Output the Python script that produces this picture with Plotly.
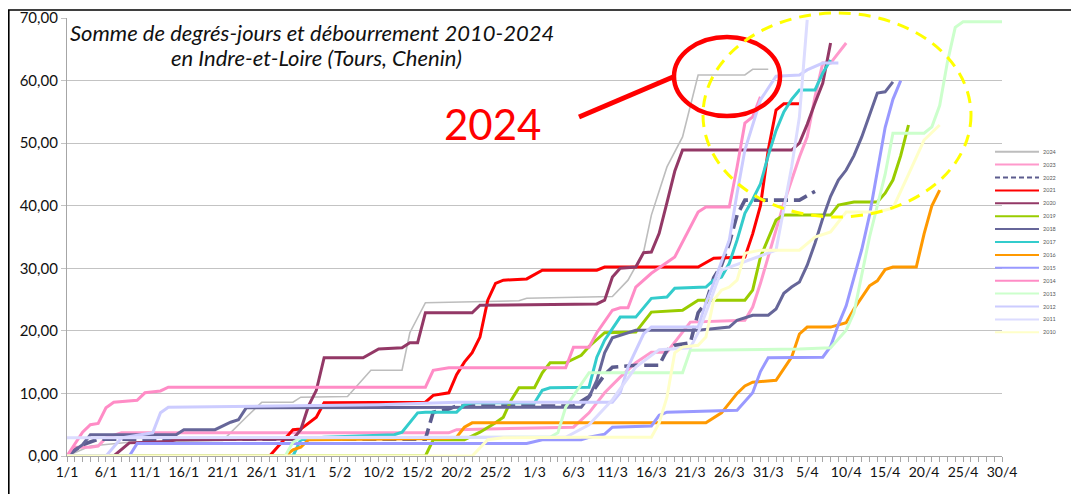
import plotly.graph_objects as go

# ---------------- data ----------------
TICK_LABELS = ["1/1", "6/1", "11/1", "16/1", "21/1", "26/1", "31/1", "5/2", "10/2", "15/2",
               "20/2", "25/2", "1/3", "6/3", "11/3", "16/3", "21/3", "26/3", "31/3", "5/4",
               "10/4", "15/4", "20/4", "25/4", "30/4"]

SERIES = ["2024", "2023", "2022", "2021", "2020", "2019", "2018", "2017",
          "2016", "2015", "2014", "2013", "2012", "2011", "2010"]

d2024 = ["1/1", "4/1", "9/1", "21/1", "24/1", "26/1", "30/1", "31/1", "6/2", "9/2", "13/2", "14/2", "16/2",
         "21/2", "28/2", "29/2", "11/3", "13/3", "15/3", "16/3", "18/3", "20/3", "22/3", "28/3", "29/3", "31/3"]
v2024 = [0, 1.6, 2.2, 2.5, 6.2, 8.6, 8.6, 9.4, 9.5, 13.7, 13.7, 19.7, 24.5,
         24.6, 24.8, 25.2, 25.5, 28.1, 32.6, 38.5, 46.2, 51.0, 60.9, 60.9, 61.8, 61.8]

d2023 = ["1/1", "2/1", "4/1", "5/1", "6/1", "8/1", "19/2", "20/2", "6/3", "8/3", "10/3", "12/3", "14/3",
         "16/3", "18/3", "21/3", "28/3", "29/3", "30/3", "1/4", "2/4", "4/4", "5/4", "6/4", "7/4", "8/4", "10/4"]
v2023 = [0, 1.4, 1.4, 1.6, 2.9, 3.7, 3.7, 4.2, 4.6, 6.9, 10.1, 12.6, 14.9,
         16.6, 16.6, 21.4, 21.7, 23.8, 27.6, 36.1, 40.4, 47.8, 51.0, 57.4, 62.8, 62.8, 66.0]

d2022 = ["1/1", "3/1", "5/1", "16/2", "17/2", "19/2", "20/2", "6/3", "8/3", "10/3", "11/3", "14/3", "17/3",
         "18/3", "19/3", "21/3", "22/3", "23/3", "24/3", "25/3", "26/3", "27/3", "28/3", "4/4", "6/4"]
v2022 = [0, 1.8, 2.7, 2.7, 7.0, 7.5, 8.0, 8.0, 9.5, 13.0, 14.2, 14.5, 14.5,
         16.9, 17.7, 18.1, 22.9, 24.5, 28.5, 30.5, 34.0, 38.5, 40.9, 40.9, 42.3]

d2021 = ["1/1", "27/1", "30/1", "31/1", "2/2", "3/2", "16/2", "17/2", "19/2", "20/2", "21/2", "22/2", "23/2",
         "24/2", "25/2", "26/2", "29/2", "2/3", "9/3", "10/3", "22/3", "24/3", "28/3", "29/3", "30/3", "31/3",
         "1/4", "2/4", "4/4"]
v2021 = [0, 0, 4.2, 4.3, 6.2, 8.5, 8.6, 9.7, 10.1, 13.0, 15.0, 16.5, 19.0,
         24.9, 27.6, 28.1, 28.3, 29.7, 29.7, 30.2, 30.2, 31.6, 31.8, 35.5, 40.0, 48.9,
         55.3, 56.3, 56.3]

d2020 = ["1/1", "7/1", "9/1", "14/1", "15/1", "30/1", "31/1", "1/2", "2/2", "3/2", "8/2", "10/2", "13/2",
         "14/2", "15/2", "16/2", "22/2", "23/2", "9/3", "10/3", "11/3", "12/3", "14/3", "15/3", "16/3", "17/3",
         "18/3", "19/3", "20/3", "3/4", "4/4", "5/4", "6/4", "7/4", "8/4"]
v2020 = [0, 0, 2.1, 2.3, 2.6, 2.7, 4.2, 8.0, 10.5, 15.7, 15.7, 17.1, 17.3,
         18.1, 18.1, 22.9, 22.9, 24.1, 24.3, 24.9, 28.6, 30.0, 30.2, 32.5, 32.6, 35.6,
         40.5, 45.5, 48.9, 48.9, 50.0, 53.0, 56.4, 59.6, 66.0]

d2019 = ["1/1", "16/2", "17/2", "21/2", "23/2", "25/2", "26/2", "27/2", "28/2", "1/3", "2/3", "3/3", "5/3",
         "7/3", "8/3", "10/3", "14/3", "16/3", "20/3", "22/3", "28/3", "29/3", "30/3", "1/4", "2/4", "8/4",
         "9/4", "10/4", "11/4", "14/4", "15/4", "16/4", "17/4", "18/4"]
v2019 = [0, 0, 2.6, 2.6, 3.8, 5.3, 6.2, 8.9, 10.9, 10.9, 13.3, 14.9, 14.9,
         16.1, 17.5, 19.7, 19.8, 23.0, 23.3, 24.9, 24.9, 26.5, 31.8, 37.7, 38.5, 38.5,
         40.1, 40.4, 40.6, 40.6, 42.0, 44.1, 48.0, 52.9]

d2018 = ["1/1", "3/1", "4/1", "15/1", "16/1", "20/1", "22/1", "23/1", "24/1", "7/3", "8/3", "9/3", "10/3",
         "11/3", "14/3", "22/3", "26/3", "27/3", "29/3", "31/3", "1/4", "2/4", "3/4", "4/4", "5/4", "6/4",
         "7/4", "8/4", "9/4", "10/4", "11/4", "12/4", "13/4", "14/4", "15/4", "16/4"]
v2018 = [0, 1.8, 3.4, 3.4, 4.2, 4.2, 5.4, 5.8, 7.7, 7.8, 9.4, 12.1, 16.5,
         18.9, 20.1, 20.1, 20.6, 21.7, 22.5, 22.5, 23.5, 26.0, 27.0, 27.8, 30.5, 34.0,
         38.0, 41.5, 44.1, 45.7, 48.0, 51.0, 54.5, 58.0, 58.2, 59.8]

d2017 = ["1/1", "30/1", "31/1", "3/2", "12/2", "13/2", "15/2", "16/2", "20/2", "21/2", "22/2", "1/3", "2/3",
         "3/3", "8/3", "9/3", "10/3", "12/3", "14/3", "16/3", "18/3", "19/3", "23/3", "24/3", "25/3", "26/3",
         "27/3", "28/3", "29/3", "30/3", "31/3", "1/4", "2/4", "3/4", "4/4", "6/4", "7/4", "8/4"]
v2017 = [0, 0, 2.6, 3.0, 3.4, 3.8, 6.9, 7.0, 7.0, 8.2, 8.5, 8.5, 10.5,
         10.9, 11.0, 15.8, 18.5, 22.2, 22.2, 25.2, 25.4, 26.8, 27.0, 28.1, 28.6, 30.8,
         34.5, 38.8, 41.0, 43.5, 48.0, 52.0, 55.0, 57.0, 58.5, 58.5, 61.2, 63.3]

d2016 = ["1/1", "29/1", "30/1", "31/1", "1/2", "19/2", "20/2", "21/2", "22/2", "23/3", "25/3", "26/3", "27/3",
         "28/3", "29/3", "1/4", "3/4", "4/4", "5/4", "8/4", "10/4", "11/4", "13/4", "14/4", "15/4", "16/4",
         "19/4", "20/4", "21/4", "22/4"]
v2016 = [0, 0, 1.0, 1.4, 2.6, 2.8, 3.0, 4.6, 5.3, 5.3, 6.9, 8.4, 10.0,
         11.2, 11.8, 12.1, 15.8, 19.5, 20.6, 20.6, 21.3, 23.5, 27.2, 28.0, 29.8, 30.2,
         30.2, 35.5, 40.0, 42.5]

d2015 = ["1/1", "9/1", "10/1", "29/2", "2/3", "7/3", "8/3", "10/3", "11/3", "16/3", "17/3", "18/3", "27/3",
         "29/3", "30/3", "31/3", "7/4", "8/4", "9/4", "10/4", "11/4", "12/4", "13/4", "14/4", "15/4", "16/4",
         "17/4"]
v2015 = [0, 0, 2.0, 2.0, 2.6, 2.6, 3.0, 3.5, 4.6, 4.8, 6.5, 7.0, 7.3,
         10.1, 13.5, 15.7, 15.8, 17.5, 21.0, 24.0, 28.5, 33.0, 38.5, 45.5, 52.5, 57.0,
         60.0]

d2014 = ["1/1", "3/1", "4/1", "5/1", "6/1", "7/1", "10/1", "11/1", "13/1", "14/1", "16/2", "17/2", "19/2",
         "5/3", "6/3", "8/3", "9/3", "11/3", "12/3", "13/3", "14/3", "16/3", "19/3", "22/3", "23/3", "26/3",
         "27/3", "28/3", "29/3", "30/3"]
v2014 = [0, 3.8, 5.0, 5.2, 7.7, 8.6, 8.9, 10.1, 10.4, 11.0, 11.0, 13.7, 14.1,
         14.1, 17.4, 17.4, 19.7, 23.3, 23.7, 23.7, 27.0, 29.2, 31.8, 39.0, 39.8, 39.8,
         46.2, 53.2, 54.2, 57.4]

d2013 = ["1/1", "29/1", "30/1", "31/1", "3/3", "4/3", "5/3", "7/3", "8/3", "20/3", "21/3", "4/4", "8/4",
         "10/4", "11/4", "13/4", "14/4", "15/4", "16/4", "20/4", "21/4", "22/4", "23/4", "24/4", "25/4", "30/4"]
v2013 = [0, 0, 2.2, 2.9, 3.0, 3.7, 7.8, 11.5, 13.3, 13.3, 16.9, 17.1, 17.3,
         20.1, 22.9, 35.0, 40.0, 45.0, 51.6, 51.6, 52.6, 56.0, 63.0, 68.5, 69.4, 69.4]

d2012 = ["1/1", "6/1", "8/1", "12/1", "13/1", "14/1", "10/2", "20/2", "7/3", "11/3", "12/3", "13/3", "15/3",
         "16/3", "22/3", "23/3", "24/3", "26/3", "27/3", "28/3", "30/3", "1/4", "4/4", "5/4", "7/4", "9/4"]
v2012 = [0, 0, 2.9, 3.7, 6.9, 7.8, 8.2, 8.6, 8.6, 8.6, 10.1, 14.2, 19.5,
         20.6, 20.6, 24.5, 27.6, 34.5, 42.0, 48.9, 56.9, 60.7, 60.9, 61.7, 62.8, 62.8]

d2011 = ["1/1", "20/2", "5/3", "8/3", "11/3", "14/3", "17/3", "21/3", "22/3", "23/3", "25/3", "1/4", "2/4",
         "3/4", "4/4", "5/4"]
v2011 = [2.9, 2.9, 3.0, 5.0, 9.0, 14.2, 17.0, 17.3, 19.7, 22.9, 29.7, 32.9, 39.8,
         46.2, 54.2, 69.7]

d2010 = ["1/1", "22/2", "24/2", "26/2", "7/3", "16/3", "17/3", "18/3", "19/3", "20/3", "22/3", "23/3", "24/3",
         "25/3", "26/3", "27/3", "28/3", "30/3", "4/4", "6/4", "8/4", "10/4", "14/4", "16/4", "18/4", "20/4",
         "22/4"]
v2010 = [0, 0, 2.6, 2.9, 3.0, 3.0, 5.3, 9.4, 16.5, 17.4, 17.7, 19.0, 24.9,
         26.5, 27.0, 28.1, 32.4, 32.9, 32.9, 35.0, 35.8, 39.0, 39.0, 39.6, 45.0, 50.5,
         52.9]

DATA = {
    "2024": (d2024, v2024), "2023": (d2023, v2023), "2022": (d2022, v2022),
    "2021": (d2021, v2021), "2020": (d2020, v2020), "2019": (d2019, v2019),
    "2018": (d2018, v2018), "2017": (d2017, v2017), "2016": (d2016, v2016),
    "2015": (d2015, v2015), "2014": (d2014, v2014), "2013": (d2013, v2013),
    "2012": (d2012, v2012), "2011": (d2011, v2011), "2010": (d2010, v2010),
}

# ---------------- styles ----------------
STYLE = {
    "2024": ("#BDBDBD", 1.6, "solid"),
    "2023": ("#FF99CC", 3, "solid"),
    "2022": ("#5C5C8E", 3.6, "14px,6px"),
    "2021": ("#FF0000", 3, "solid"),
    "2020": ("#933866", 3, "solid"),
    "2019": ("#99CC00", 3, "solid"),
    "2018": ("#666699", 3, "solid"),
    "2017": ("#33CCCC", 3, "solid"),
    "2016": ("#FF9900", 3, "solid"),
    "2015": ("#9999FF", 3, "solid"),
    "2014": ("#FF8CC6", 3, "solid"),
    "2013": ("#CCFFCC", 3, "solid"),
    "2012": ("#CCCCFF", 3, "solid"),
    "2011": ("#DCDCFF", 3, "solid"),
    "2010": ("#FFFFC8", 3, "solid"),
}

# page body adds an 8px offset; figure is sized so that the screenshot pixels line up
OFF = 8
W, H = 1079 - OFF, 494 - OFF
# plot area in screenshot pixels
PL, PR, PT, PB = 67, 1002, 18, 456
FONT = "Lato"


def px_x(x):
    return (x - PL) / (PR - PL)


def px_y(y):
    return (PB - y) / (PB - PT)


def iso(dm):
    d, m = dm.split("/")
    return f"2024-{int(m):02d}-{int(d):02d}"


fig = go.Figure()
for name in SERIES:
    dates, vals = DATA[name]
    color, width, dash = STYLE[name]
    fig.add_trace(go.Scatter(
        x=[iso(d) for d in dates], y=vals, mode="lines", name=name,
        line=dict(color=color, width=width, dash=dash),
        showlegend=False, hoverinfo="skip"))

shapes = []
annotations = []

# outer frame
shapes.append(dict(type="rect", xref="paper", yref="paper",
                   x0=px_x(OFF + 0.8), x1=px_x(1095), y0=px_y(510), y1=px_y(10),
                   line=dict(color="#000000", width=1.6), layer="above"))

# custom compact legend
for i, name in enumerate(SERIES):
    color, width, dash = STYLE[name]
    yy = 151.7 + i * 12.9
    shapes.append(dict(type="line", xref="paper", yref="paper",
                       x0=px_x(995), x1=px_x(1039), y0=px_y(yy), y1=px_y(yy),
                       line=dict(color=color, width=2, dash=("5px,3px" if dash != "solid" else "solid"))))
    annotations.append(dict(xref="paper", yref="paper", x=px_x(1041), y=px_y(yy),
                            xanchor="left", yanchor="middle", showarrow=False,
                            text=name, font=dict(family=FONT, size=5.5, color="#595959")))

# red highlight of 2024
shapes.append(dict(type="circle", xref="paper", yref="paper",
                   x0=px_x(674), x1=px_x(780), y0=px_y(116), y1=px_y(37),
                   line=dict(color="#FF0000", width=4.5)))
shapes.append(dict(type="line", xref="paper", yref="paper",
                   x0=px_x(579), y0=px_y(117), x1=px_x(673), y1=px_y(77),
                   line=dict(color="#FF0000", width=5)))
annotations.append(dict(xref="paper", yref="paper", x=px_x(492), y=px_y(124),
                        xanchor="center", yanchor="middle", showarrow=False,
                        text="2024", font=dict(family=FONT, size=42, color="#FF0000")))

# yellow dashed ellipse
shapes.append(dict(type="circle", xref="paper", yref="paper",
                   x0=px_x(703), x1=px_x(971), y0=px_y(217), y1=px_y(13),
                   line=dict(color="#FFFF00", width=3, dash="12px,8px")))

# title
annotations.append(dict(xref="paper", yref="paper", x=px_x(312), y=px_y(32),
                        xanchor="center", yanchor="middle", showarrow=False,
                        text="<i>Somme de degrés-jours et débourrement 2010-2024</i>",
                        font=dict(family=FONT, size=22, color="#111111")))
annotations.append(dict(xref="paper", yref="paper", x=px_x(316), y=px_y(57),
                        xanchor="center", yanchor="middle", showarrow=False,
                        text="<i>en Indre-et-Loire (Tours, Chenin)</i>",
                        font=dict(family=FONT, size=22, color="#111111")))

fig.update_layout(
    width=W, height=H,
    margin=dict(l=PL - OFF, r=(1079 - PR), t=PT - OFF, b=(494 - PB), autoexpand=False),
    paper_bgcolor="white", plot_bgcolor="white",
    separators=", ",
    shapes=shapes, annotations=annotations,
    showlegend=False,
    xaxis=dict(
        type="date", range=[iso("1/1"), iso("30/4")],
        tickmode="array", tickvals=[iso(t) for t in TICK_LABELS], ticktext=TICK_LABELS,
        ticks="outside", ticklen=5, tickcolor="#A6A6A6", tickwidth=1,
        showline=True, linecolor="#A6A6A6", linewidth=1.3,
        showgrid=False, zeroline=False, ticklabelstandoff=-2,
        tickfont=dict(family=FONT, size=14, color="#111111"),
        minor=dict(tickmode="linear", tick0=iso("1/1"), dtick=86400000,
                   ticks="outside", ticklen=5, tickcolor="#A6A6A6", showgrid=False),
    ),
    yaxis=dict(
        range=[0, 70], tick0=0, dtick=10, tickformat=".2f",
        showgrid=True, gridcolor="#C3C3C3", gridwidth=1.3,
        showline=True, linecolor="#A6A6A6", linewidth=1.3,
        ticks="outside", ticklen=5, tickcolor="#C3C3C3",
        zeroline=False, ticklabelstandoff=0,
        tickfont=dict(family=FONT, size=15, color="#111111"),
    ),
)

fig.write_html("out.html")
